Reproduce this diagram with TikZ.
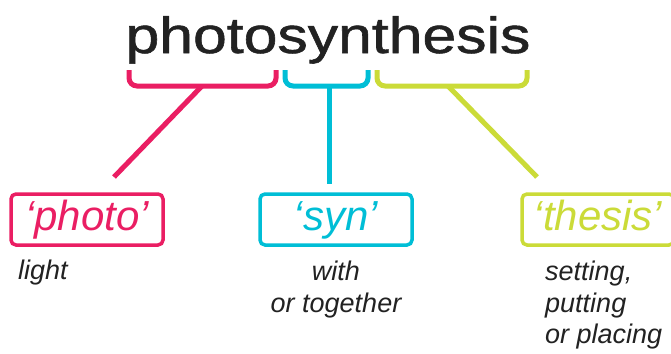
\documentclass[tikz,border=0pt]{standalone}
\usepackage{fontspec}
\setmainfont{Liberation Sans}
\newfontfamily\titlefont{Liberation Sans}[FakeBold=1.0]
\definecolor{cpink}{HTML}{EA1E63}
\definecolor{ccyan}{HTML}{00BED6}
\definecolor{clime}{HTML}{CBDB38}
\definecolor{cink}{HTML}{222222}
\tikzset{
  brk/.style={line width=5pt, rounded corners=8pt},
  stem/.style={line width=5pt},
  wordbox/.style={draw, line width=3.5pt, rounded corners=5pt, inner sep=0pt,
    minimum width=152pt, minimum height=51pt, text height=30pt, text depth=9pt,
    font=\fontsize{42}{48}\selectfont\itshape},
  gloss/.style={inner sep=0pt, text=cink, font=\fontsize{27}{32}\selectfont\itshape}
}
\begin{document}
\begin{tikzpicture}[x=1pt,y=-1pt]
\useasboundingbox[fill=white] (0,0) rectangle (671,353);
\node[anchor=base, inner sep=0pt, text=cink, font=\titlefont\fontsize{51}{60}\selectfont] (title) at (328,53) {\scalebox{1.19}[1]{photosynthesis}};

% brackets
\draw[brk, cpink] (129,70) -- (129,86) -- (276,86) -- (276,70);
\draw[brk, ccyan] (285,70) -- (285,86) -- (368,86) -- (368,70);
\draw[brk, clime] (377,70) -- (377,86) -- (527,86) -- (527,70);

\coordinate (pt) at (202,86);
\coordinate (pe) at (114,177);
\coordinate (ct) at (329,86);
\coordinate (ce) at (329,184);
\coordinate (lt) at (448,86);
\coordinate (le) at (537,177);
\draw[stem, cpink] (pt) -- (pe);
\draw[stem, ccyan] (ct) -- (ce);
\draw[stem, clime] (lt) -- (le);

% word boxes
\node[wordbox, draw=cpink, text=cpink] (photo) at (87,219.5) {‘photo’};
\node[wordbox, draw=ccyan, text=ccyan] (syn) at (336,219.5) {‘syn’};
\node[wordbox, draw=clime, text=clime] (thesis) at (598,219.5) {‘thesis’};

% glosses
\node[gloss, anchor=base west] (g1) at (18,279) {light};
\node[gloss, anchor=base] (g2a) at (336,280) {with};
\node[gloss, anchor=base] (g2b) at (336,312) {or together};
\node[gloss, anchor=base west] (g3a) at (545,280) {setting,};
\node[gloss, anchor=base west] (g3b) at (545,312) {putting};
\node[gloss, anchor=base west] (g3c) at (545,343) {or placing};
\end{tikzpicture}
\end{document}
